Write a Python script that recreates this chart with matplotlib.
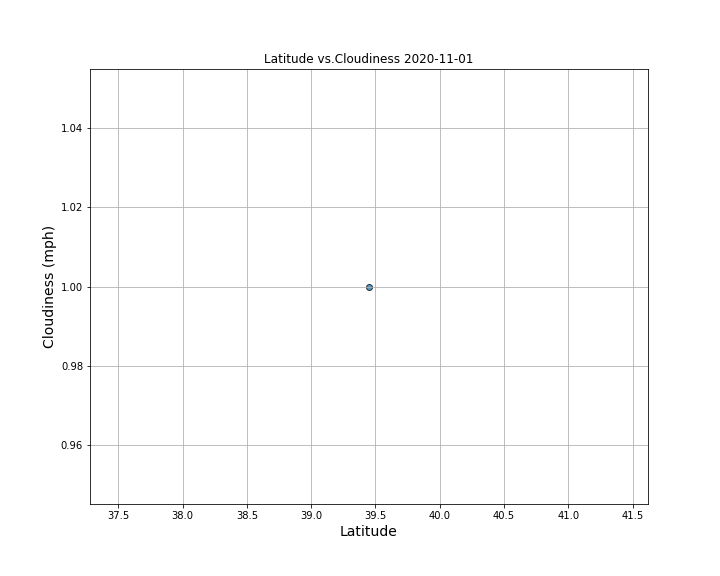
import matplotlib
matplotlib.use("Agg")
import matplotlib.pyplot as plt

# Data
latitude = [39.45]
cloudiness = [1.0]
date_label = "2020-11-01"

fig, ax = plt.subplots(figsize=(10, 8), dpi=72)
fig.subplots_adjust(bottom=0.125)
ax.scatter(latitude, cloudiness, edgecolor="black", linewidth=1.0, alpha=0.75)

ax.set_title(f"Latitude vs.Cloudiness {date_label}", fontsize=12)
ax.set_xlabel("Latitude", fontsize=14)
ax.set_ylabel("Cloudiness (mph)", fontsize=14)
ax.grid(True)

fig.savefig("out.png", dpi=72)
